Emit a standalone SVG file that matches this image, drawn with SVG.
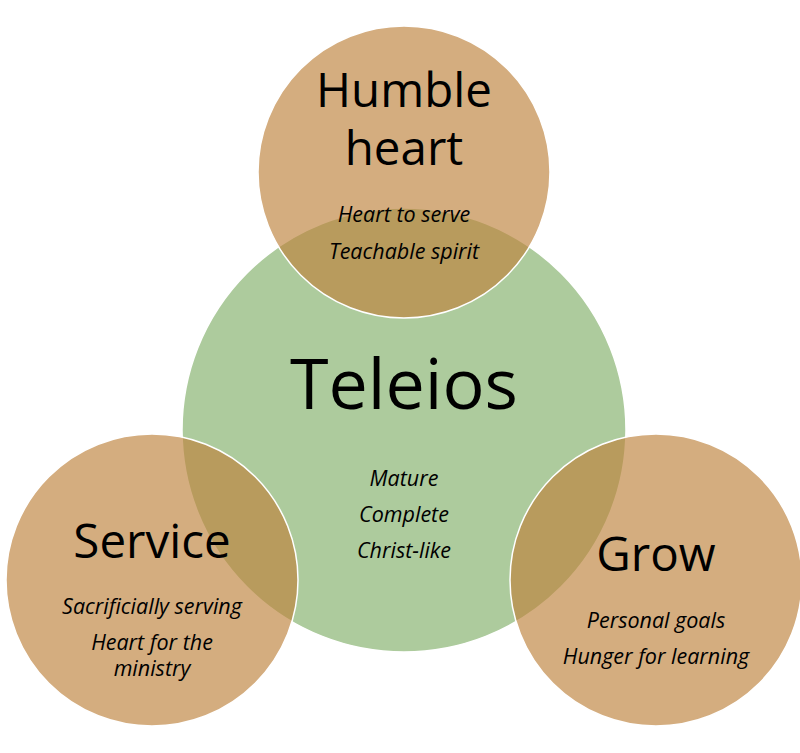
<svg xmlns="http://www.w3.org/2000/svg" width="800" height="753" viewBox="0 0 800 753">
<style>
.c{stroke:#ffffff;stroke-width:1.5}
.g{fill:#adcb9d}
.t{fill:#be833c;fill-opacity:0.66}
text{font-family:"Open Sans","Noto Sans",sans-serif;fill:#000;text-anchor:middle}
.big{font-size:47.5px}
.sm{font-size:21.5px;font-style:italic}
</style>
<rect width="800" height="753" fill="#ffffff"/>
<g id="teleios">
<circle class="c g" cx="404" cy="430" r="222"/>
</g>
<g id="humble">
<circle class="c t" cx="404" cy="172" r="146"/>
</g>
<g id="service">
<circle class="c t" cx="152" cy="580" r="146"/>
</g>
<g id="grow">
<circle class="c t" cx="656" cy="580" r="146"/>
</g>
<g id="connectors"></g>
<g id="labels">
<text class="big" x="404" y="107">Humble</text>
<text class="big" x="404" y="165">heart</text>
<text class="sm" x="404" y="222">Heart to serve</text>
<text class="sm" x="404" y="259">Teachable spirit</text>
<text x="404" y="409" style="font-size:70px">Teleios</text>
<text class="sm" x="404" y="486">Mature</text>
<text class="sm" x="404" y="522">Complete</text>
<text class="sm" x="404" y="558">Christ-like</text>
<text class="big" x="152" y="558">Service</text>
<text class="sm" x="152" y="614">Sacrificially serving</text>
<text class="sm" x="152" y="650">Heart for the</text>
<text class="sm" x="152" y="676">ministry</text>
<text class="big" x="656" y="571">Grow</text>
<text class="sm" x="656" y="628">Personal goals</text>
<text class="sm" x="656" y="664">Hunger for learning</text>
</g>
</svg>
